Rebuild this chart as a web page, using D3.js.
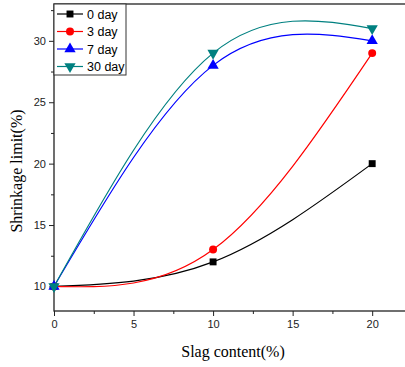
<!DOCTYPE html>
<html>
<head>
<meta charset="utf-8">
<script src="https://cdn.jsdelivr.net/npm/d3@7"></script>
<style>
  body { margin: 0; background: #fff; }
  svg { display: block; }
</style>
</head>
<body>
<svg id="chart" width="405" height="367"></svg>
<script>
var slag = [0, 10, 20];
var seriesNames = ["0 day", "3 day", "7 day", "30 day"];
var day0 = [10, 12, 20];
var day3 = [10, 13, 29];
var day7 = [10, 28, 30];
var day30 = [10, 29, 31];
var xTicks = [0, 5, 10, 15, 20];
var yTicks = [10, 15, 20, 25, 30];

var colors = ["#000000", "#ff0000", "#0000ff", "#008080"];
var symbols = [d3.symbolSquare, d3.symbolCircle, d3.symbolTriangle, d3.symbolTriangle];
var allSeries = [day0, day3, day7, day30];

var svg = d3.select("#chart");
var plotLeft = 54, plotTop = 4, plotRight = 404, plotBottom = 311;

var x = d3.scaleLinear().domain([0, 22]).range([plotLeft, plotRight]);
var y = d3.scaleLinear().domain([8, 33]).range([plotBottom, plotTop]);

// frame (right edge runs off the picture, as in the original)
svg.append("rect")
  .attr("x", plotLeft).attr("y", plotTop)
  .attr("width", plotRight - plotLeft + 10).attr("height", plotBottom - plotTop)
  .attr("fill", "none").attr("stroke", "#222").attr("stroke-width", 1.3);

// x axis
var xAxis = svg.append("g").attr("transform", "translate(0," + plotBottom + ")");
xAxis.call(d3.axisBottom(x).tickValues(xTicks).tickSize(5).tickPadding(4).tickFormat(d3.format("d")));
xAxis.append("g").call(d3.axisBottom(x).tickValues([2.5, 7.5, 12.5, 17.5]).tickSize(3).tickFormat(""));
xAxis.selectAll(".domain").remove();

var yAxis = svg.append("g").attr("transform", "translate(" + plotLeft + ",0)");
yAxis.call(d3.axisLeft(y).tickValues(yTicks).tickSize(5).tickPadding(3).tickFormat(d3.format("d")));
yAxis.append("g").call(d3.axisLeft(y).tickValues([12.5, 17.5, 22.5, 27.5, 32.5]).tickSize(3).tickFormat(""));
yAxis.selectAll(".domain").remove();

svg.selectAll(".tick line").attr("stroke", "#222");
svg.selectAll(".tick text")
  .attr("font-family", "Liberation Sans, Arial, sans-serif")
  .attr("font-size", 11).attr("fill", "#222");

// axis titles
svg.append("text")
  .attr("x", 233).attr("y", 357)
  .attr("text-anchor", "middle")
  .attr("font-family", "Liberation Serif, Times New Roman, serif")
  .attr("font-size", 16)
  .text("Slag content(%)");

svg.append("text")
  .attr("transform", "translate(22,171) rotate(-90)")
  .attr("text-anchor", "middle")
  .attr("font-family", "Liberation Serif, Times New Roman, serif")
  .attr("font-size", 16)
  .text("Shrinkage limit(%)");

// lines
var line = d3.line()
  .x(function(d, i) { return x(slag[i]); })
  .y(function(d) { return y(d); })
  .curve(d3.curveNatural);

var plot = svg.append("g");
allSeries.forEach(function(vals, k) {
  plot.append("path")
    .datum(vals)
    .attr("fill", "none")
    .attr("stroke", colors[k])
    .attr("stroke-width", 1.2)
    .attr("d", line);
});

function marker(g, k, cx, cy) {
  var sizes = [48, 50, 55, 55];
  g.append("path")
    .attr("d", d3.symbol().type(symbols[k]).size(sizes[k])())
    .attr("fill", colors[k])
    .attr("transform", "translate(" + cx + "," + cy + ")" + (k === 3 ? " rotate(180)" : ""));
}

allSeries.forEach(function(vals, k) {
  vals.forEach(function(v, i) {
    marker(plot, k, x(slag[i]), y(v));
  });
});

// legend
var legend = svg.append("g");
legend.append("rect")
  .attr("x", plotLeft).attr("y", plotTop)
  .attr("width", 72).attr("height", 71)
  .attr("fill", "#fff").attr("stroke", "#333").attr("stroke-width", 1);

seriesNames.forEach(function(name, k) {
  var ly = 14 + k * 17.5;
  legend.append("line")
    .attr("x1", 57).attr("x2", 83).attr("y1", ly).attr("y2", ly)
    .attr("stroke", colors[k]).attr("stroke-width", 1.2);
  marker(legend, k, 70, ly);
  legend.append("text")
    .attr("x", 87).attr("y", ly + 4.5)
    .attr("font-family", "Liberation Sans, Arial, sans-serif")
    .attr("font-size", 12.5)
    .text(name);
});
</script>
</body>
</html>
